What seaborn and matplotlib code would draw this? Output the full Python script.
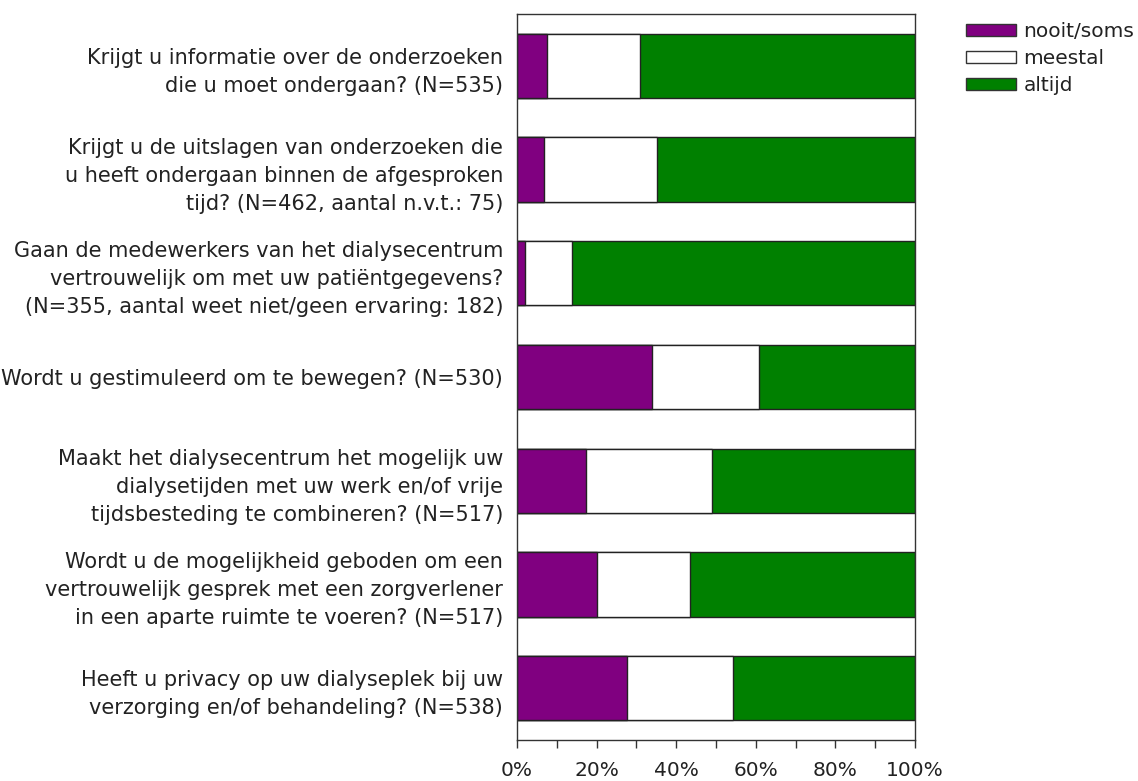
import matplotlib
matplotlib.use("Agg")
import matplotlib.pyplot as plt
import seaborn as sns
import pandas as pd
import numpy as np
from matplotlib.patches import Patch

sns.set_theme(style="white")
plt.rcParams['font.family'] = ['DejaVu Sans']

questions = [
    "Krijgt u informatie over de onderzoeken\ndie u moet ondergaan? (N=535)",
    "Krijgt u de uitslagen van onderzoeken die\nu heeft ondergaan binnen de afgesproken\ntijd? (N=462, aantal n.v.t.: 75)",
    "Gaan de medewerkers van het dialysecentrum\nvertrouwelijk om met uw patiëntgegevens?\n(N=355, aantal weet niet/geen ervaring: 182)",
    "Wordt u gestimuleerd om te bewegen? (N=530)",
    "Maakt het dialysecentrum het mogelijk uw\ndialysetijden met uw werk en/of vrije\ntijdsbesteding te combineren? (N=517)",
    "Wordt u de mogelijkheid geboden om een\nvertrouwelijk gesprek met een zorgverlener\nin een aparte ruimte te voeren? (N=517)",
    "Heeft u privacy op uw dialyseplek bij uw\nverzorging en/of behandeling? (N=538)",
]
nooit_soms = [7.6, 6.9, 1.9, 33.8, 17.4, 20.0, 27.6]
meestal = [23.2, 28.2, 11.9, 27.0, 31.5, 23.4, 26.7]
altijd = [69.2, 64.9, 86.2, 39.2, 51.1, 56.6, 45.7]

series_names = ["nooit/soms", "meestal", "altijd"]
series_colors = ["#800080", "#ffffff", "#008000"]

df = pd.DataFrame({"vraag": questions, "nooit/soms": nooit_soms,
                   "meestal": meestal, "altijd": altijd})
df["c1"] = df["nooit/soms"]
df["c2"] = df["c1"] + df["meestal"]
df["c3"] = df["c2"] + df["altijd"]

FS = 15
fig = plt.figure(figsize=(11.38, 7.81), dpi=100)
ax = fig.add_axes([517/1138, 1-740/781, (915-517)/1138, (740-14)/781])

for col, color in zip(["c3", "c2", "c1"], series_colors[::-1]):
    sns.barplot(data=df, x=col, y="vraag", orient="h", color=color,
                edgecolor="#222222", linewidth=1.0, width=0.62, ax=ax,
                saturation=1, order=questions)

ax.set_xlim(0, 100)
ax.set_ylim(6.5, -0.5)
ax.set_xlabel("")
ax.set_ylabel("")
ax.set_xticks(np.arange(0, 101, 20))
ax.set_xticks(np.arange(10, 100, 20), minor=True)
ax.set_xticklabels([f"{v}%" for v in range(0, 101, 20)])
ax.tick_params(axis="x", which="both", direction="out", length=6, width=1,
               color="#333333", bottom=True, labelsize=14.5, labelcolor="#222222", pad=9)
ax.tick_params(axis="y", length=0, labelsize=FS, labelcolor="#222222", pad=10)
for lbl in ax.get_yticklabels():
    lbl.set_linespacing(1.5)
for s in ax.spines.values():
    s.set_visible(True)
    s.set_color("#333333")
    s.set_linewidth(1.0)

handles = [Patch(facecolor=c, edgecolor="#333333", linewidth=1.0) for c in series_colors]
fig.legend(handles, series_names, loc="upper left",
           bbox_to_anchor=(966/1138, 1-22/781), frameon=False,
           fontsize=14.5, handlelength=2.5, handleheight=0.6,
           handletextpad=0.35, labelspacing=0.4, borderpad=0, borderaxespad=0,
           labelcolor="#222222")

fig.savefig("out.png", dpi=100)
